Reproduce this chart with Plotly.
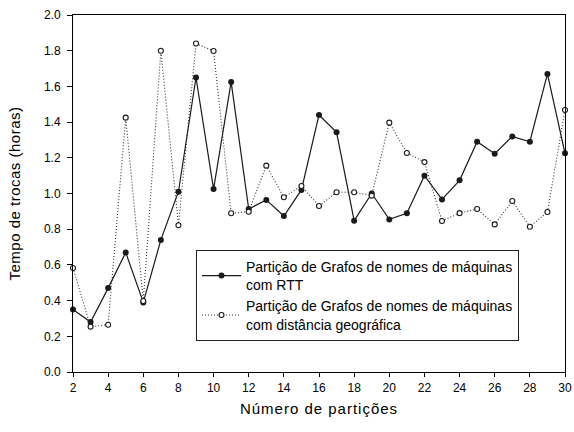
import plotly.graph_objects as go

particoes = list(range(2, 31))
rtt = [0.35, 0.28, 0.47, 0.67, 0.39, 0.74, 1.01, 1.65, 1.025, 1.625,
       0.913, 0.964, 0.874, 1.02, 1.44, 1.343, 0.848, 1.0, 0.855, 0.889,
       1.10, 0.967, 1.074, 1.29, 1.223, 1.32, 1.29, 1.67, 1.225]
geo = [0.583, 0.254, 0.265, 1.425, 0.398, 1.80, 0.822, 1.84, 1.798, 0.889,
       0.898, 1.156, 0.979, 1.042, 0.93, 1.007, 1.007, 0.988, 1.397, 1.227,
       1.176, 0.846, 0.89, 0.913, 0.827, 0.958, 0.814, 0.896, 1.468]

nome_rtt = "Partição de Grafos de nomes de máquinas<br>com RTT"
nome_geo = "Partição de Grafos de nomes de máquinas<br>com distância geográfica"
titulo_x = "Número de partições"
titulo_y = "Tempo de trocas (horas)"

font_family = "Arial, Liberation Sans, sans-serif"


def espacado(txt, px=1.0):
    return f'<span style="letter-spacing:{px}px">{txt}</span>'


fig = go.Figure()
fig.add_trace(go.Scatter(
    x=particoes, y=rtt, name=nome_rtt, mode="lines+markers",
    line=dict(color="#1a1a1a", width=1.2),
    marker=dict(symbol="circle", size=6, color="#1a1a1a"),
    cliponaxis=False,
))
fig.add_trace(go.Scatter(
    x=particoes, y=geo, name=nome_geo, mode="lines+markers",
    line=dict(color="#333333", width=1.1, dash="1px,2px"),
    marker=dict(symbol="circle", size=5, color="white",
                line=dict(color="#1a1a1a", width=1.1)),
    cliponaxis=False,
))

fig.update_layout(
    width=574, height=432,
    margin=dict(l=73, r=9, t=15, b=60),
    paper_bgcolor="white", plot_bgcolor="white",
    font=dict(family=font_family, size=12, color="black"),
    showlegend=True,
    legend=dict(
        x=0.25, y=0.342, xanchor="left", yanchor="top",
        bordercolor="#222222", borderwidth=1, bgcolor="white",
        font=dict(size=14, family=font_family),
        itemwidth=39,
        tracegroupgap=0,
    ),
    xaxis=dict(
        range=[2, 30], dtick=2, tick0=2,
        automargin=False,
        showgrid=False, zeroline=False,
        showline=True, linecolor="black", linewidth=1, mirror=True,
        ticks="outside", ticklen=4, tickcolor="black",
        ticklabelstandoff=1, ticklabeloverflow="allow",
        title=dict(text=espacado(titulo_x, 1.0), font=dict(size=15), standoff=9),
    ),
    yaxis=dict(
        range=[0, 2], dtick=0.2, tick0=0, tickformat=".1f",
        automargin=False,
        showgrid=False, zeroline=False,
        showline=True, linecolor="black", linewidth=1, mirror=True,
        ticks="outside", ticklen=5, tickcolor="black",
        ticklabelstandoff=4,
        title=dict(text=espacado(titulo_y, 0.5), font=dict(size=15), standoff=19),
    ),
)

fig.write_html("out.html")
